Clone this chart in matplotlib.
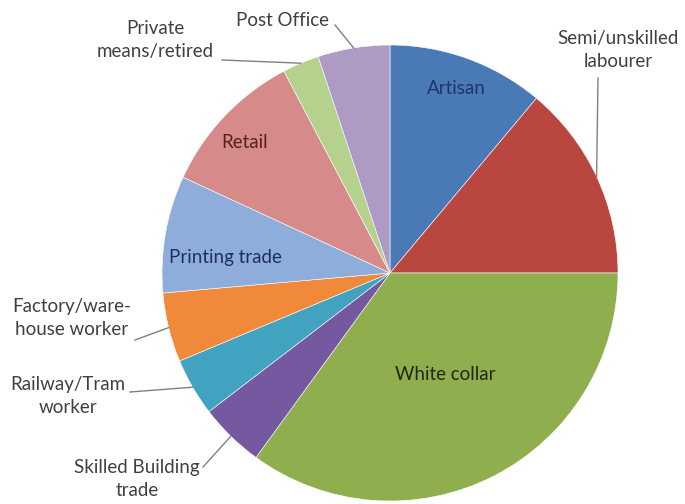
import numpy as np
import matplotlib.pyplot as plt

# occupation shares (%), clockwise from 12 o'clock
labels = ['Artisan', 'Semi/unskilled\nlabourer', 'White collar', 'Skilled Building\ntrade',
          'Railway/Tram\nworker', 'Factory/ware-\nhouse worker', 'Printing trade', 'Retail',
          'Private\nmeans/retired', 'Post Office']
shares = [11.1, 13.9, 35.0, 4.6, 4.1, 4.9, 8.3, 10.4, 2.6, 5.1]
colors = ['#4a7ab5', '#b9463f', '#8fae4e', '#7458a0', '#42a3c0', '#f08a3a',
          '#8eaddb', '#d68b8a', '#b6d08e', '#ad9bc6']
inside = {'Artisan': '#1f3564', 'White collar': '#1f2a0d', 'Printing trade': '#1f3054', 'Retail': '#5a1f1f'}

W, H = 685, 504
cx, cy, R = 390, 273, 228

plt.rcParams['font.family'] = ['Lato', 'DejaVu Sans']
fig = plt.figure(figsize=(W / 100, H / 100), dpi=100)
ax = fig.add_axes([0, 0, 1, 1])

wedges, _ = ax.pie(shares, colors=colors, startangle=90, counterclock=False,
                   center=(cx, H - cy), radius=R, frame=True,
                   wedgeprops=dict(edgecolor='white', linewidth=0.4))
ax.set_xlim(0, W)
ax.set_ylim(0, H)
ax.axis('off')

# labels inside the slices (pixel positions, y from top)
inside_pos = {'Artisan': (456, 88), 'White collar': (445, 375),
              'Printing trade': (225, 258), 'Retail': (245, 142)}
for name, (x, y) in inside_pos.items():
    ax.text(x, H - y, name, ha='center', va='center', fontsize=13.5, color=inside[name])

# outside labels: text centre, start of the leader line
outside = {
    'Semi/unskilled\nlabourer': ((618, 50), (598, 78)),
    'Post Office': ((283, 20), (335, 25)),
    'Private\nmeans/retired': ((155, 40), (222, 60)),
    'Factory/ware-\nhouse worker': ((72, 318), (135, 340)),
    'Railway/Tram\nworker': ((68, 396), (130, 392)),
    'Skilled Building\ntrade': ((137, 479), (203, 467)),
}
for w, name in zip(wedges, labels):
    if name not in outside:
        continue
    (tx, ty), (lx, ly) = outside[name]
    ax.text(tx, H - ty, name, ha='center', va='center', fontsize=13.5, color='#404040',
            linespacing=1.45)
    mid = np.deg2rad((w.theta1 + w.theta2) / 2)
    ex, ey = cx + R * np.cos(mid), (H - cy) + R * np.sin(mid)
    ax.plot([lx, ex], [H - ly, ey], color='#808080', lw=1)

fig.savefig('out.png', dpi=100)
